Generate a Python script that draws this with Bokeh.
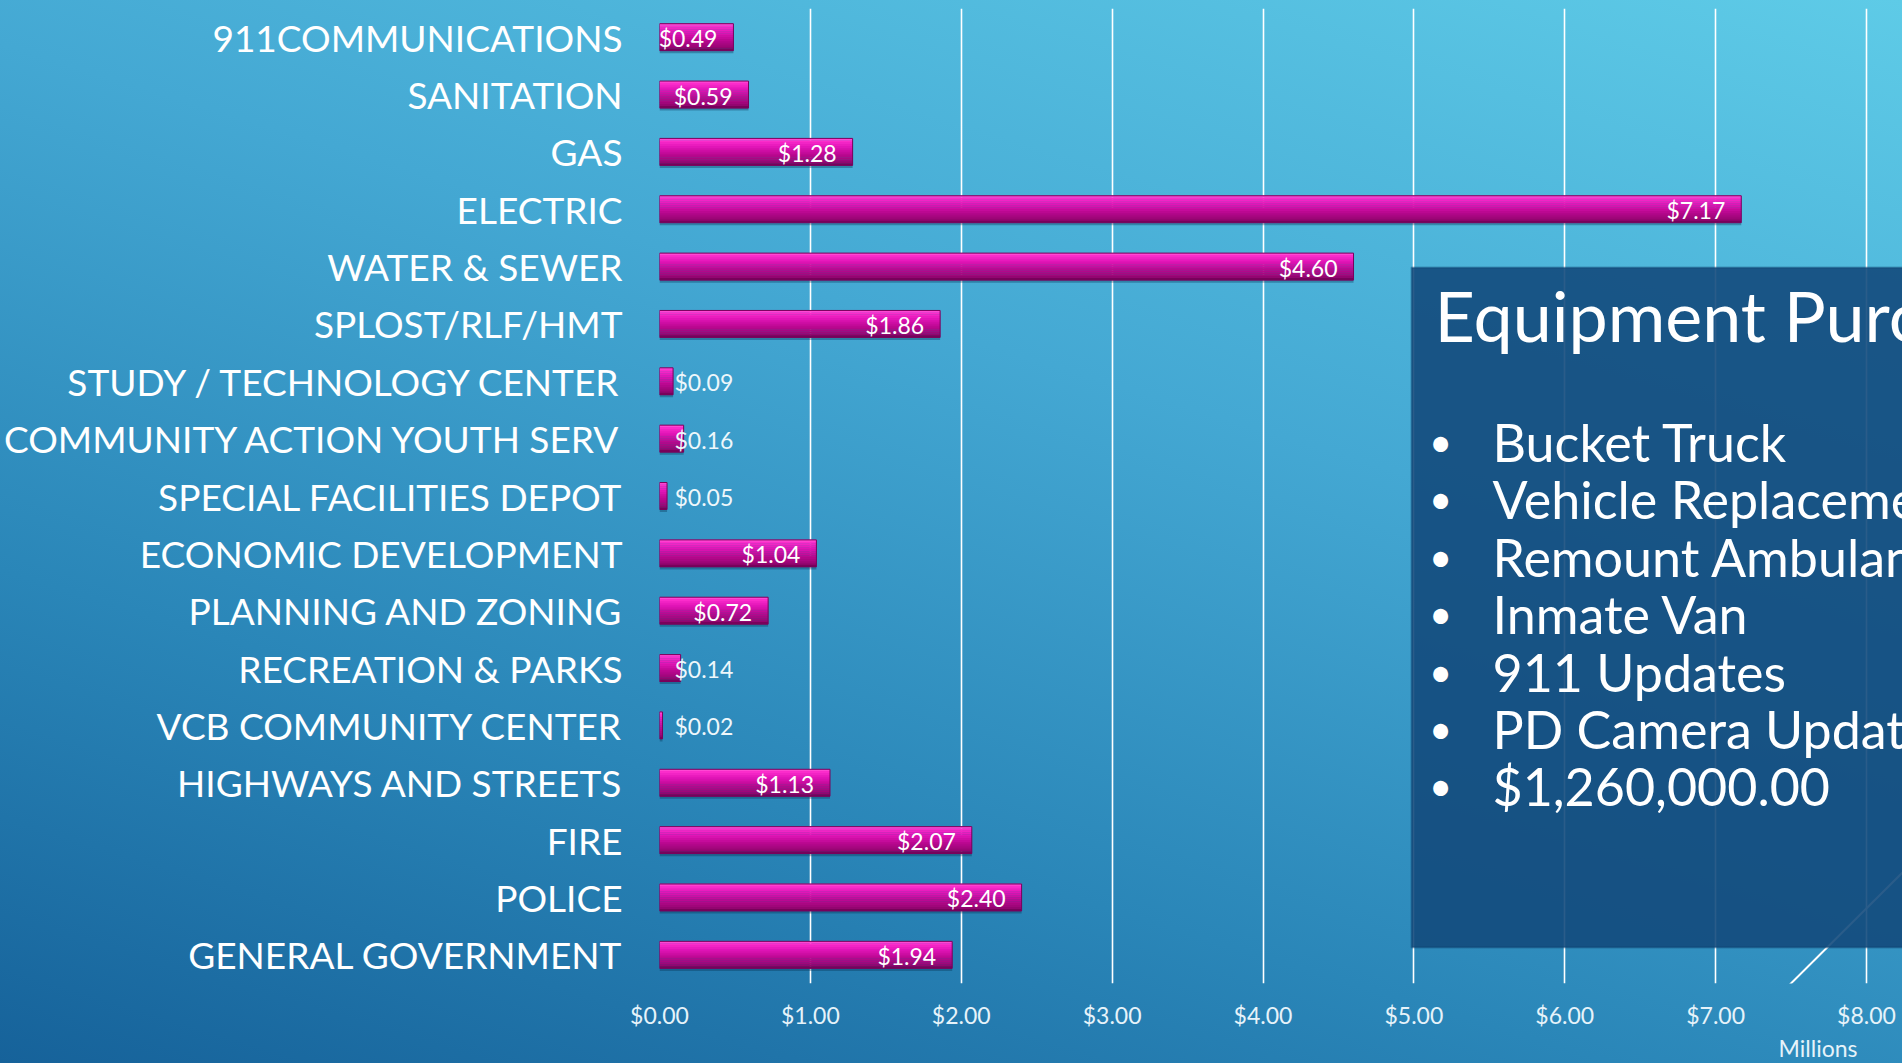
import numpy as np
from bokeh.plotting import figure
from bokeh.models import (ColumnDataSource, FactorRange, Range1d, FixedTicker,
                          NumeralTickFormatter, BoxAnnotation, Label, Arrow, Title)
from bokeh.transform import dodge
from bokeh.core.properties import value
from bokeh.embed import file_html
from bokeh.resources import INLINE

# ---------------- data ----------------
departments = [
    "911COMMUNICATIONS", "SANITATION", "GAS", "ELECTRIC", "WATER & SEWER",
    "SPLOST/RLF/HMT", "STUDY / TECHNOLOGY CENTER", "COMMUNITY ACTION YOUTH SERV",
    "SPECIAL FACILITIES DEPOT", "ECONOMIC DEVELOPMENT", "PLANNING AND ZONING",
    "RECREATION & PARKS", "VCB COMMUNITY CENTER", "HIGHWAYS AND STREETS",
    "FIRE", "POLICE", "GENERAL GOVERNMENT",
]
amounts_millions = [0.49, 0.59, 1.28, 7.17, 4.60, 1.86, 0.09, 0.16, 0.05,
                    1.04, 0.72, 0.14, 0.02, 1.13, 2.07, 2.40, 1.94]
x_ticks = [0, 1, 2, 3, 4, 5, 6, 7, 8]
axis_unit = "Millions"
box_title = "Equipment Purchases"
box_items = ["Bucket Truck", "Vehicle Replacement", "Remount Ambulance",
             "Inmate Van", "911 Updates", "PD Camera Updates", "$1,260,000.00"]

# ---------------- layout (page pixels) ----------------
W, H = 1902, 1063
X0PX, X8PX, FT, FB = 659, 1866, 8, 983
XMAX_TICK = x_ticks[-1]
N = len(departments)


def dx(px):
    return XMAX_TICK * (px - X0PX) / (X8PX - X0PX)


def dy(py):
    return N * (FB - py) / (FB - FT)


FONT = "Lato"
labels = [f"${v:.2f}" for v in amounts_millions]
src = ColumnDataSource(dict(cat=departments, val=amounts_millions, label=labels))
inside = [i for i, v in enumerate(amounts_millions) if v >= 0.3]
outside = [i for i, v in enumerate(amounts_millions) if v < 0.3]
src_in = ColumnDataSource(dict(cat=[departments[i] for i in inside],
                               val=[amounts_millions[i] for i in inside],
                               label=[labels[i] for i in inside]))
src_out = ColumnDataSource(dict(cat=[departments[i] for i in outside],
                                zero=[0.0 for _ in outside],
                                label=[labels[i] for i in outside]))

p = figure(width=W, height=H,
           y_range=FactorRange(factors=list(reversed(departments))),
           x_range=Range1d(0, dx(W)),
           output_backend="svg", toolbar_location=None,
           min_border_left=X0PX, min_border_right=0,
           min_border_top=FT, min_border_bottom=H - FB)
p.styles = {"background": "linear-gradient(197deg, #5ecbe7 0%, #44a8d3 38%, #2a86b8 70%, #16629a 100%)"}
p.background_fill_alpha = 0
p.border_fill_alpha = 0
p.outline_line_color = None

# grid / axes
p.xgrid.ticker = FixedTicker(ticks=x_ticks)
p.xgrid.grid_line_color = "white"
p.xgrid.grid_line_width = 1.6
p.ygrid.grid_line_color = None

p.xaxis.ticker = FixedTicker(ticks=x_ticks)
p.xaxis.formatter = NumeralTickFormatter(format="$0.00")
p.xaxis.axis_line_color = None
p.xaxis.major_tick_line_color = None
p.xaxis.minor_tick_line_color = None
p.xaxis.major_tick_out = 0
p.xaxis.major_label_standoff = 17
p.xaxis.major_label_text_font = FONT
p.xaxis.major_label_text_font_size = "23px"
p.xaxis.major_label_text_color = "#e6f3fa"

p.yaxis.axis_line_color = None
p.yaxis.major_tick_line_color = None
p.yaxis.minor_tick_line_color = None
p.yaxis.major_tick_out = 0
p.yaxis.major_label_standoff = 37
p.yaxis.major_label_text_font = FONT
p.yaxis.major_label_text_font_size = "37px"
p.yaxis.major_label_text_color = "white"

p.add_layout(Title(text=axis_unit, align="right", offset=45, standoff=0,
                   text_font=FONT, text_font_size="23px", text_font_style="normal",
                   text_color="#e6f3fa"), "below")

# decorative slide line (under the text box)
p.add_layout(Arrow(end=None, x_start=dx(1710), y_start=dy(1063),
                   x_end=dx(1902), y_end=dy(872),
                   line_color="white", line_width=2, level="underlay"))

# bars: shadow, gradient strips, outline
BH = 0.47
p.hbar(y=dodge("cat", -0.045, range=p.y_range), left=0, right="val", height=BH,
       source=src, fill_color="#06304f", fill_alpha=0.35, line_color=None)

stops = [(0.0, (255, 95, 217)), (0.07, (255, 48, 206)), (0.3, (228, 22, 186)),
         (0.6, (188, 8, 146)), (0.88, (152, 6, 116)), (1.0, (106, 0, 80))]


def interp(t):
    for (t0, c0), (t1, c1) in zip(stops[:-1], stops[1:]):
        if t0 <= t <= t1:
            f = (t - t0) / (t1 - t0)
            return "#%02x%02x%02x" % tuple(int(round(a + (b - a) * f)) for a, b in zip(c0, c1))
    return "#%02x%02x%02x" % stops[-1][1]


NS = 14
sh = BH / NS
for k in range(NS):
    off = BH / 2 - (k + 0.5) * sh
    col = interp((k + 0.5) / NS)
    p.hbar(y=dodge("cat", off, range=p.y_range), left=0, right="val",
           height=sh * 1.15, source=src, fill_color=col, line_color=None)

p.hbar(y="cat", left=0, right="val", height=BH, source=src,
       fill_color=None, line_color="#7a005c", line_width=1)

# value labels
p.text(x="val", y="cat", text="label", source=src_in, text_align="right",
       text_baseline="middle", x_offset=-16, y_offset=1,
       text_font=value(FONT), text_font_size="23px", text_color="white")
p.text(x="zero", y="cat", text="label", source=src_out, text_align="left",
       text_baseline="middle", x_offset=15, y_offset=1,
       text_font=value(FONT), text_font_size="23px", text_color="#eef7fb")

# overlay text box
p.add_layout(BoxAnnotation(left=dx(1411), right=dx(1930), top=dy(267), bottom=dy(947),
                           fill_color="#134a7c", fill_alpha=0.9,
                           line_color="#0b3560", line_width=2))
p.add_layout(Label(x=dx(1434), y=dy(314), text=box_title, text_align="left",
                   text_baseline="middle", text_font=FONT, text_font_size="70px",
                   text_color="white"))
ROW0, ROWSTEP = 441.5, 57.4
for i, item in enumerate(box_items):
    yy = dy(ROW0 + i * ROWSTEP)
    p.add_layout(Label(x=dx(1440), y=yy, text="\u2022", text_align="center",
                       text_baseline="middle", text_font=FONT, text_font_size="40px",
                       text_color="white"))
    p.add_layout(Label(x=dx(1492), y=yy, text=item, text_align="left",
                       text_baseline="middle", text_font=FONT, text_font_size="52px",
                       text_color="white"))

open("out.html", "w").write(file_html(p, INLINE))
